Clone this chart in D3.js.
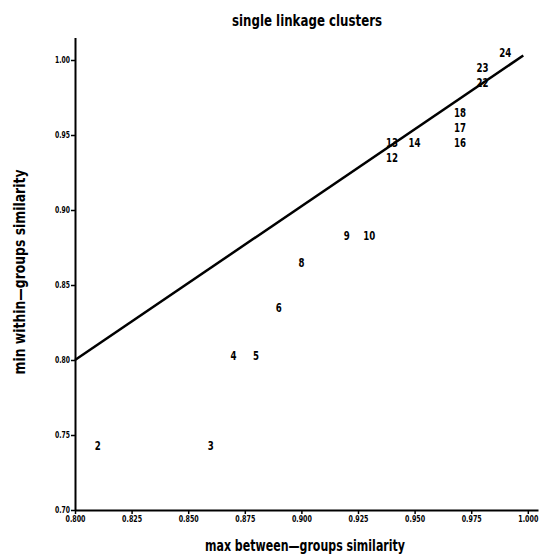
<!DOCTYPE html>
<html>
<head>
<meta charset="utf-8">
<script src="https://d3js.org/d3.v7.min.js"></script>
<style>
  body { margin: 0; background: #fff; }
  text { font-family: "Liberation Sans Narrow", "DejaVu Sans", sans-serif; font-weight: bold; fill: #000; }
</style>
</head>
<body>
<div id="chart"></div>
<script>
// cluster labels and their similarity values
var clusterLabels = ["2", "3", "4", "5", "6", "8", "9", "10", "12", "13", "14", "16", "17", "18", "22", "23", "24"];
var maxBetween   = [0.81, 0.86, 0.87, 0.88, 0.89, 0.90, 0.92, 0.93, 0.94, 0.94, 0.95, 0.97, 0.97, 0.97, 0.98, 0.98, 0.99];
var minWithin    = [0.743, 0.743, 0.803, 0.803, 0.835, 0.865, 0.883, 0.883, 0.935, 0.945, 0.945, 0.945, 0.955, 0.965, 0.985, 0.995, 1.005];

// reference line
var refLineX = [0.800, 0.998];
var refLineY = [0.800, 1.003];

var xTicks = [0.800, 0.825, 0.850, 0.875, 0.900, 0.925, 0.950, 0.975, 1.000];
var yTicks = [0.70, 0.75, 0.80, 0.85, 0.90, 0.95, 1.00];

var width = 543, height = 556;

var svg = d3.select("#chart")
  .append("svg")
    .attr("width", width)
    .attr("height", height);

var x = d3.scaleLinear()
    .domain([0.800, 1.0045])
    .range([75, 538]);

var y = d3.scaleLinear()
    .domain([0.70, 1.015])
    .range([510, 37.5]);

// axes
var xAxis = d3.axisBottom(x)
    .tickValues(xTicks)
    .tickSize(4)
    .tickSizeOuter(0)
    .tickFormat(d3.format(".3f"));

var yAxis = d3.axisLeft(y)
    .tickValues(yTicks)
    .tickSize(4)
    .tickSizeOuter(0)
    .tickFormat(d3.format(".2f"));

var gx = svg.append("g")
    .attr("transform", "translate(0,510)")
    .call(xAxis);

var gy = svg.append("g")
    .attr("transform", "translate(75,0)")
    .call(yAxis);

[gx, gy].forEach(function(g) {
  g.select(".domain").attr("stroke", "#000").attr("stroke-width", 2);
  g.selectAll(".tick line").attr("stroke", "#000").attr("stroke-width", 1.5);
  g.selectAll(".tick text")
    .style("font-size", "8px")
    .style("font-family", "\"Liberation Sans Narrow\", \"DejaVu Sans\", sans-serif")
    .style("font-weight", "bold")
    .attr("lengthAdjust", "spacingAndGlyphs");
});
gx.selectAll(".tick text").attr("y", 6).attr("textLength", 20);
gy.selectAll(".tick text").attr("x", -5).attr("textLength", 15);

// reference line
var lineData = refLineX.map(function(d, i) { return {x: d, y: refLineY[i]}; });
svg.append("path")
    .datum(lineData)
    .attr("fill", "none")
    .attr("stroke", "#000")
    .attr("stroke-width", 2.5)
    .attr("d", d3.line()
      .x(function(d) { return x(d.x); })
      .y(function(d) { return y(d.y); }));

// cluster labels as plot symbols
var points = clusterLabels.map(function(d, i) {
  return {label: d, x: maxBetween[i], y: minWithin[i]};
});

svg.append("g")
  .selectAll("text")
  .data(points)
  .enter()
  .append("text")
    .attr("x", function(d) { return x(d.x); })
    .attr("y", function(d) { return y(d.y); })
    .attr("dy", "0.36em")
    .attr("text-anchor", "middle")
    .attr("textLength", function(d) { return d.label.length * 6; })
    .attr("lengthAdjust", "spacingAndGlyphs")
    .style("font-size", "13px")
    .text(function(d) { return d.label; });

// titles
svg.append("text")
    .attr("x", 307)
    .attr("y", 26)
    .attr("text-anchor", "middle")
    .attr("textLength", 150)
    .attr("lengthAdjust", "spacingAndGlyphs")
    .style("font-size", "15px")
    .text("single linkage clusters");

svg.append("text")
    .attr("x", 305)
    .attr("y", 551)
    .attr("text-anchor", "middle")
    .attr("textLength", 200)
    .attr("lengthAdjust", "spacingAndGlyphs")
    .style("font-size", "16px")
    .text("max between—groups similarity");

svg.append("text")
    .attr("transform", "translate(25,272) rotate(-90)")
    .attr("text-anchor", "middle")
    .attr("textLength", 205)
    .attr("lengthAdjust", "spacingAndGlyphs")
    .style("font-size", "16px")
    .text("min within—groups similarity");
</script>
</body>
</html>
